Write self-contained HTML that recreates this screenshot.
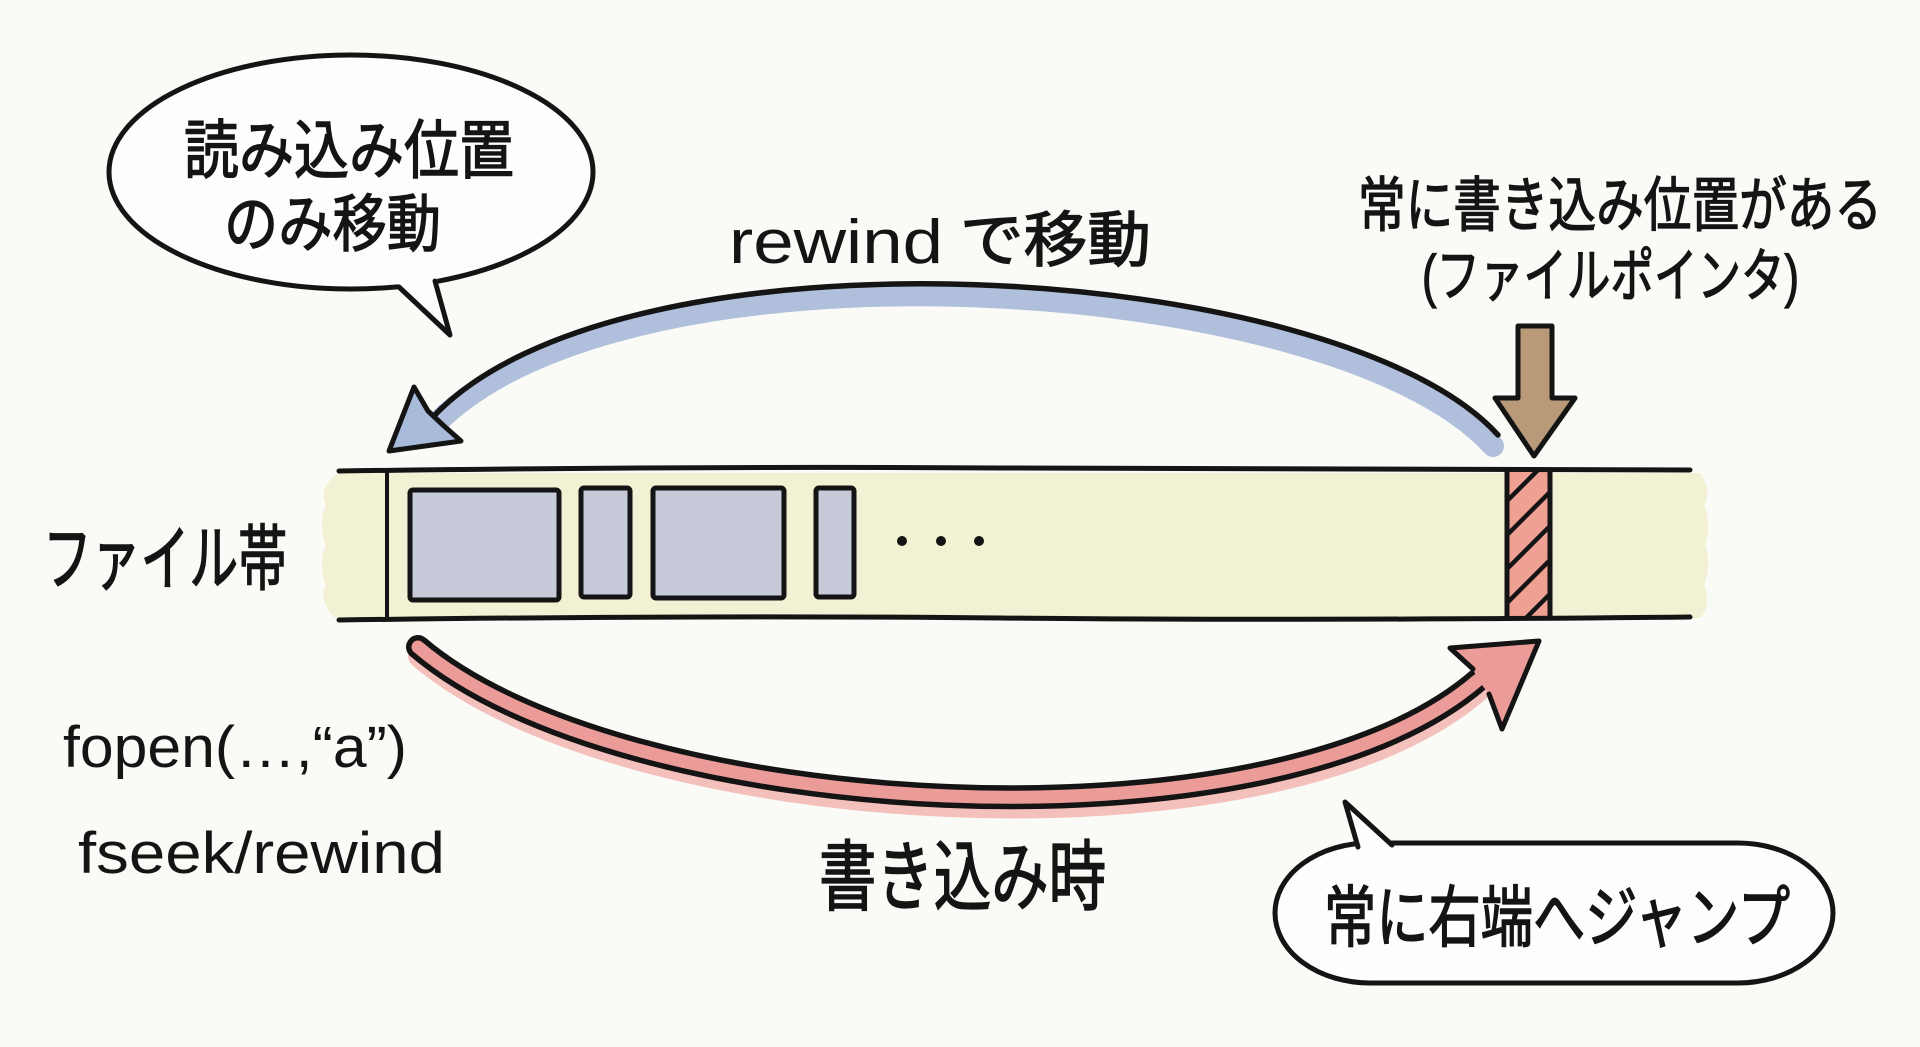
<!DOCTYPE html>
<html>
<head>
<meta charset="utf-8">
<style>
html,body{margin:0;padding:0;background:#fafaf7;}
body{width:1920px;height:1047px;overflow:hidden;}
svg{display:block;}
text{font-family:"Liberation Sans","Noto Sans CJK JP",sans-serif;fill:#141414;}
.j{stroke:#141414;stroke-width:1.2;}
</style>
</head>
<body>
<svg width="1920" height="1047" viewBox="0 0 1920 1047" xmlns="http://www.w3.org/2000/svg">
  <rect x="0" y="0" width="1920" height="1047" fill="#fafaf7"/>
  <defs>
    <clipPath id="hc"><rect x="1508" y="472" width="41" height="146"/></clipPath>
  </defs>

  <!-- Bubble 1 -->
  <ellipse cx="351" cy="172" rx="242" ry="117" fill="#fdfdfb" stroke="#141414" stroke-width="5"/>
  <polygon points="398,284 450,335 437,279 437,268 400,270" fill="#fdfdfb"/>
  <polyline points="399,287 450,335 435,281" fill="none" stroke="#141414" stroke-width="5" stroke-linejoin="round" stroke-linecap="round"/>

  <!-- Bubble 2 -->
  <rect x="1275" y="843" width="558" height="140" rx="95" ry="70" fill="#fdfdfb" stroke="#141414" stroke-width="5"/>
  <polygon points="1356,850 1345,802 1394,850" fill="#fdfdfb"/>
  <polyline points="1358,847 1345,802 1392,845" fill="none" stroke="#141414" stroke-width="5" stroke-linejoin="round" stroke-linecap="round"/>

  <!-- Band -->
  <path d="M 338 473 L 1700 473 Q 1712 490 1704 505 Q 1712 525 1705 545 Q 1712 565 1704 585 Q 1712 605 1700 618 L 335 618 Q 318 600 326 585 Q 318 565 326 545 Q 318 525 326 505 Q 318 488 338 473 Z" fill="#f3f1d3"/>
  <rect x="1507" y="471" width="43" height="147" fill="#eea193"/>
  <g clip-path="url(#hc)" stroke="#141414" stroke-width="4.5">
    <line x1="1496" y1="478" x2="1560" y2="414"/>
    <line x1="1496" y1="512" x2="1560" y2="448"/>
    <line x1="1496" y1="546" x2="1560" y2="482"/>
    <line x1="1496" y1="580" x2="1560" y2="516"/>
    <line x1="1496" y1="614" x2="1560" y2="550"/>
    <line x1="1496" y1="648" x2="1560" y2="584"/>
  </g>
  <line x1="1507" y1="470" x2="1507" y2="618" stroke="#141414" stroke-width="5"/>
  <line x1="1550" y1="470" x2="1550" y2="618" stroke="#141414" stroke-width="5"/>

  <path d="M 339 471 Q 700 466 1000 468 T 1690 470" fill="none" stroke="#141414" stroke-width="5" stroke-linecap="round"/>
  <path d="M 339 620 Q 700 615 1000 618 T 1690 617" fill="none" stroke="#141414" stroke-width="5" stroke-linecap="round"/>
  <line x1="387" y1="470" x2="387" y2="620" stroke="#141414" stroke-width="4"/>

  <!-- blocks -->
  <g fill="#c6cad9" stroke="#141414" stroke-width="5" stroke-linejoin="round">
    <rect x="410" y="490" width="149" height="110" rx="3"/>
    <rect x="581" y="488" width="49" height="109" rx="3"/>
    <rect x="653" y="488" width="131" height="110" rx="3"/>
    <rect x="816" y="488" width="38" height="109" rx="3"/>
  </g>
  <circle cx="902" cy="541" r="5" fill="#141414"/>
  <circle cx="941" cy="541" r="5" fill="#141414"/>
  <circle cx="979" cy="541" r="5" fill="#141414"/>

  <!-- Brown pointer arrow -->
  <polygon points="1518,326 1552,326 1552,398 1575,398 1534,456 1495,398 1518,398" fill="#b89a78" stroke="#141414" stroke-width="5" stroke-linejoin="round"/>

  <!-- Blue rewind arc -->
  <path d="M 1493 446 C 1336 272, 616 226, 430 430" fill="none" stroke="#b0c0dc" stroke-width="22" stroke-linecap="round"/>
  <path d="M 1498 435 C 1340 260, 620 215, 432 418" fill="none" stroke="#141414" stroke-width="5.5" stroke-linecap="round"/>
  <polygon points="428,411 414,387 389,451 461,441 444,426" fill="#a9bbdb" stroke="#141414" stroke-width="5" stroke-linejoin="round"/>

  <!-- Red write arc -->
  <path d="M 420 656 C 622 829, 1272 869, 1478 690" fill="none" stroke="#f4c0bc" stroke-width="24" stroke-linecap="round"/>
  <path d="M 418 647 C 620 820, 1270 860, 1478 680" fill="none" stroke="#141414" stroke-width="24" stroke-linecap="round"/>
  <path d="M 418 647 C 620 820, 1270 860, 1478 680" fill="none" stroke="#ec9c98" stroke-width="13" stroke-linecap="round"/>
  <polygon points="1473,669 1450,648 1539,641 1502,729 1489,694 1478,680" fill="#ec9c98"/>
  <polyline points="1473,669 1450,648 1539,641 1502,729 1489,694" fill="none" stroke="#141414" stroke-width="5" stroke-linejoin="round" stroke-linecap="round"/>

  <!-- Texts -->
  <g transform="translate(184,173) scale(1,1.15)"><text class="j" x="0" y="0" font-size="56" textLength="330" lengthAdjust="spacingAndGlyphs">読み込み位置</text></g>
  <g transform="translate(224,246) scale(1,1.12)"><text class="j" x="0" y="0" font-size="56" textLength="217" lengthAdjust="spacingAndGlyphs">のみ移動</text></g>

  <text x="729" y="263" font-size="62" textLength="214" lengthAdjust="spacingAndGlyphs">rewind</text>
  <g transform="translate(960,261) scale(1,1.12)"><text class="j" x="0" y="0" font-size="54" textLength="191" lengthAdjust="spacingAndGlyphs">で移動</text></g>

  <g transform="translate(1358,226) scale(1,1.1)"><text class="j" x="0" y="0" font-size="54" textLength="524" lengthAdjust="spacingAndGlyphs">常に書き込み位置がある</text></g>
  <g transform="translate(1422,296) scale(1,1.12)"><text class="j" x="0" y="0" font-size="52" textLength="377" lengthAdjust="spacingAndGlyphs">(ファイルポインタ)</text></g>

  <g transform="translate(43,584) scale(1,1.28)"><text class="j" x="0" y="0" font-size="56" textLength="244" lengthAdjust="spacingAndGlyphs">ファイル帯</text></g>

  <text x="63" y="767" font-size="58" textLength="344" lengthAdjust="spacingAndGlyphs">fopen(…,“a”)</text>
  <text x="78" y="873" font-size="58" textLength="367" lengthAdjust="spacingAndGlyphs">fseek/rewind</text>

  <g transform="translate(819,904) scale(1,1.28)"><text class="j" x="0" y="0" font-size="60" textLength="287" lengthAdjust="spacingAndGlyphs">書き込み時</text></g>

  <g transform="translate(1324,941) scale(1,1.2)"><text class="j" x="0" y="0" font-size="56" textLength="466" lengthAdjust="spacingAndGlyphs">常に右端へジャンプ</text></g>
</svg>
</body>
</html>
